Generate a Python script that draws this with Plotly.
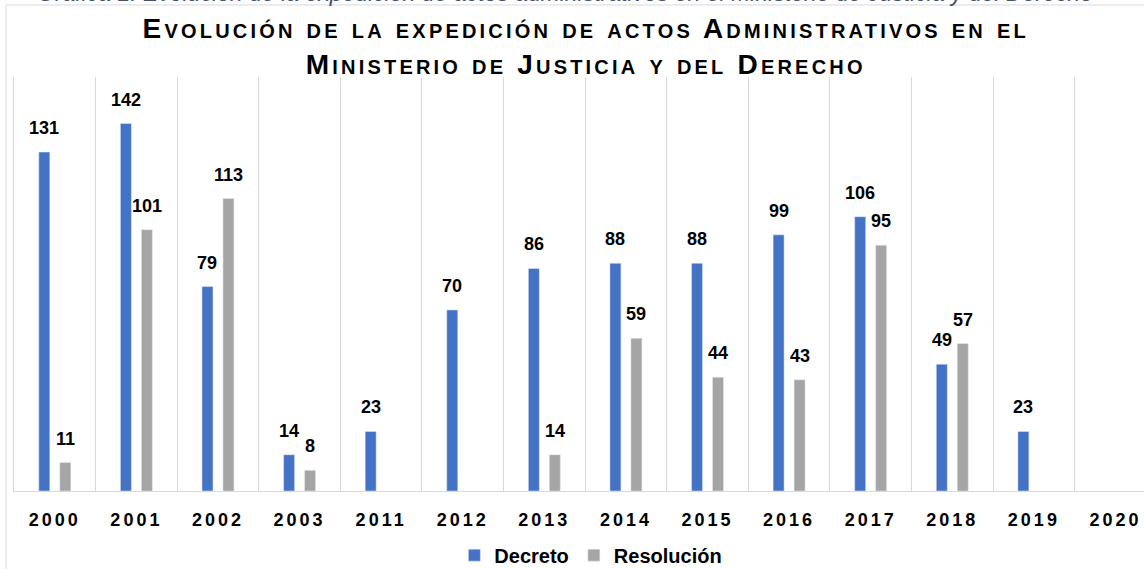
import plotly.graph_objects as go

years = ["2000", "2001", "2002", "2003", "2011", "2012", "2013",
         "2014", "2015", "2016", "2017", "2018", "2019", "2020"]
decreto = [131, 142, 79, 14, 23, 70, 86, 88, 88, 99, 106, 49, 23, None]
resolucion = [11, 101, 113, 8, None, None, 14, 59, 44, 43, 95, 57, None, None]

BLUE = "#4472C4"
GRAY = "#A5A5A5"
FONT = "Liberation Sans, Arial, sans-serif"

bar_w = 0.135
fig = go.Figure()
fig.add_trace(go.Bar(name="Decreto", x=years, y=decreto, marker_color=BLUE,
                     width=bar_w, offset=-0.196))
fig.add_trace(go.Bar(name="Resolución", x=years, y=resolucion, marker_color=GRAY,
                     width=bar_w, offset=0.061))

annotations = []
for vals, xs in ((decreto, -10.5), (resolucion, 10.5)):
    for i, v in enumerate(vals):
        if v is None:
            continue
        annotations.append(dict(
            x=i, y=v, xref="x", yref="y", text=f"<b>{v}</b>", showarrow=False,
            xshift=xs, yshift=12, yanchor="bottom",
            font=dict(family=FONT, size=18, color="#000000")))

annotations.append(dict(
    text="Gráfica 1. Evolución de la expedición de actos administrativos en el Ministerio de Justicia y del Derecho",
    xref="paper", yref="paper", x=0.019, y=1.1665, xanchor="left", yanchor="bottom",
    showarrow=False, font=dict(family=FONT, size=23, color="#44546A", style="italic")))

fig.update_layout(
    width=1144, height=569,
    margin=dict(l=14, r=0, t=77, b=78, autoexpand=False),
    paper_bgcolor="white", plot_bgcolor="white",
    barmode="overlay",
    title=dict(
        text="<b>Evolución de la expedición de actos Administrativos en el<br>Ministerio de Justicia y del Derecho</b>",
        x=0.512, xanchor="center", xref="container",
        y=0.934, yanchor="top", yref="container",
        font=dict(family=FONT, size=28, color="#000000", variant="small-caps")),
    xaxis=dict(type="category", range=[-0.5, 13.35], tickson="boundaries",
               showgrid=True, gridcolor="#D9D9D9", gridwidth=1,
               showline=True, linecolor="#D9D9D9", linewidth=1,
               ticks="", ticklabelstandoff=12,
               tickfont=dict(family=FONT, size=18, color="#000000", weight="bold")),
    yaxis=dict(range=[0, 160], showgrid=False, zeroline=False, showticklabels=False,
               showline=True, linecolor="#D9D9D9", linewidth=1),
    legend=dict(orientation="h", x=0.5105, xanchor="center", y=-0.155, yanchor="middle",
                font=dict(family=FONT, size=20, color="#000000", weight="bold"),
                itemwidth=30, tracegroupgap=0),
    annotations=annotations,
    shapes=[dict(type="rect", xref="paper", yref="paper",
                 x0=-0.0071, x1=1.05, y0=-0.25, y1=1.174,
                 line=dict(color="#D9D9D9", width=1), fillcolor="rgba(0,0,0,0)",
                 layer="below")],
)

post = """
var s=document.createElement('style');
s.innerHTML='html,body{margin:0;padding:0;overflow:hidden} .xtick text{letter-spacing:3px} .gtitle{letter-spacing:3.2px}';
document.head.appendChild(s);
"""
fig.write_html("out.html", post_script=post, config={"displayModeBar": False})
